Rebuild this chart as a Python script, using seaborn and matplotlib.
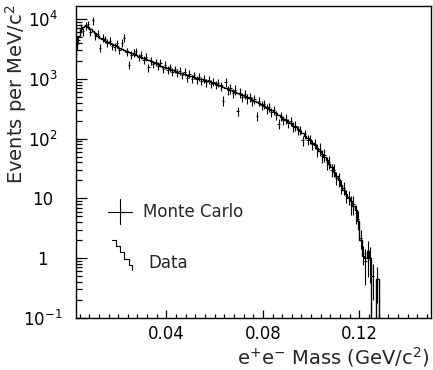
import numpy as np
import pandas as pd
import matplotlib
matplotlib.use("Agg")
import matplotlib.pyplot as plt
import matplotlib.ticker as mticker
import seaborn as sns

# ---------------- data (bins of 1 MeV, lower edge from 2 MeV) ----------------
bin_low_mev = 2
bin_width_mev = 1

# "Data" step histogram, events per MeV/c^2, bins m = 2 .. 128 MeV
data_vals = [
    3160, 5250, 6760, 7410, 7590, 7410, 6920, 6310, 5750, 5250,   # 2-11
    4790, 4570, 4370, 4170, 3980, 3800, 3630, 3470, 3310, 3160,   # 12-21
    3020, 2920, 2820, 2690, 2600, 2510, 2430, 2340, 2240, 2140,   # 22-31
    2040, 1970, 1910, 1820, 1740, 1660, 1600, 1550, 1500, 1450,   # 32-41
    1400, 1350, 1300, 1260, 1230, 1190, 1150, 1120, 1100, 1070,   # 42-51
    1040, 1000, 980, 955, 930, 910, 880, 850, 830, 800,           # 52-61
    775, 740, 710, 675, 645, 630, 600, 575, 555, 535,             # 62-71
    515, 490, 470, 445, 430, 415, 400, 375, 355, 335,             # 72-81
    315, 300, 280, 265, 245, 230, 215, 205, 190, 180,             # 82-91
    165, 155, 145, 132, 122, 112, 102, 93, 85, 78,                # 92-101
    70, 63, 56, 50, 44, 38, 33, 28, 24, 20,                       # 102-111
    17, 14, 12, 10, 8.9, 7.6, 6.3, 4.2, 2.0, 1.1,                 # 112-121
    1.0, 1.3, 1.0, 0, 0, 0.45, 0,                                 # 122-128
]

# "Monte Carlo" points with error bars, same bins
mc_vals = [
    2600, 4500, 7200, 6200, 7800, 8100, 6100, 9500, 5200, 5600,   # 2-11
    3300, 4900, 4600, 4000, 4300, 3500, 3400, 3900, 3000, 4000,   # 12-21
    4800, 2800, 1700, 2500, 2700, 2900, 2300, 2500, 2100, 2350,   # 22-31
    1550, 2000, 1750, 1900, 1650, 1850, 1450, 1700, 1400, 1550,   # 32-41
    1300, 1450, 1250, 1350, 1150, 1300, 1050, 1200, 1000, 1150,   # 42-51
    980, 1080, 920, 1010, 870, 960, 830, 900, 790, 860,           # 52-61
    760, 430, 880, 650, 690, 580, 660, 290, 590, 500,             # 62-71
    560, 470, 500, 420, 460, 240, 420, 360, 380, 320,             # 72-81
    340, 280, 300, 250, 178, 240, 205, 215, 180, 195,             # 82-91
    160, 165, 140, 140, 93, 118, 96, 98, 80, 82,                  # 92-101
    66, 68, 52, 54, 40, 41, 30, 30, 22, 21,                       # 102-111
    16, 15, 11, 10.5, 8.0, 8.2, 5.8, 4.5, 2.2, 1.2,               # 112-121
    0.9, 1.2, 0.95, 0.5, np.nan, 0.45, np.nan,                    # 122-128
]

# relative error of each Monte Carlo point
mc_rel_err = [
    0.15, 0.15, 0.15, 0.15, 0.15, 0.15, 0.15, 0.15, 0.15, 0.15,
    0.15, 0.15, 0.15, 0.15, 0.15, 0.15, 0.15, 0.15, 0.15, 0.15,
    0.15, 0.15, 0.15, 0.15, 0.15, 0.15, 0.15, 0.15, 0.15, 0.15,
    0.15, 0.15, 0.15, 0.15, 0.15, 0.15, 0.15, 0.15, 0.15, 0.15,
    0.15, 0.15, 0.15, 0.15, 0.15, 0.15, 0.15, 0.15, 0.15, 0.15,
    0.15, 0.15, 0.15, 0.15, 0.15, 0.15, 0.15, 0.15, 0.15, 0.15,
    0.18, 0.18, 0.18, 0.18, 0.18, 0.18, 0.18, 0.18, 0.18, 0.18,
    0.18, 0.18, 0.18, 0.18, 0.18, 0.18, 0.18, 0.18, 0.18, 0.18,
    0.18, 0.18, 0.18, 0.18, 0.18, 0.18, 0.18, 0.18, 0.18, 0.18,
    0.18, 0.18, 0.18, 0.18, 0.18, 0.18, 0.18, 0.18, 0.18, 0.18,
    0.25, 0.25, 0.25, 0.25, 0.25, 0.25, 0.25, 0.25, 0.25, 0.25,
    0.25, 0.25, 0.25, 0.25, 0.35, 0.35, 0.35, 0.35, 0.35, 0.35,
    0.6, 0.6, 0.6, 0.6, 0.6, 0.6, 0.6,
]

xtick_vals = [0.04, 0.08, 0.12]
xtick_labels = ["0.04", "0.08", "0.12"]
ytick_vals = [0.1, 1, 10, 100, 1000, 10000]
ytick_labels = [r"$10^{-1}$", "1", "10", r"$10^{2}$", r"$10^{3}$", r"$10^{4}$"]
legend_labels = ["Monte Carlo", "Data"]

# ---------------- derived arrays ----------------
n_bins = len(data_vals)
edges_gev = (bin_low_mev + bin_width_mev * np.arange(n_bins + 1)) / 1000.0
centers_gev = 0.5 * (edges_gev[:-1] + edges_gev[1:])
data_arr = np.array(data_vals, dtype=float)
mc_arr = np.array(mc_vals, dtype=float)
mc_err = mc_arr * np.array(mc_rel_err)
hist_df = pd.DataFrame({"mass": centers_gev, "events": data_arr})

# ---------------- style ----------------
sns.set_style("ticks")
plt.rcParams["font.family"] = ["DejaVu Sans"]
plt.rcParams["mathtext.fontset"] = "dejavusans"

W, H = 433, 370
fig = plt.figure(figsize=(W / 100, H / 100), dpi=100)
ax = fig.add_axes([76 / W, 1 - 318 / H, (431 - 76) / W, (318 - 6) / H])

sns.histplot(data=hist_df, x="mass", weights="events", bins=list(edges_gev),
             element="step", fill=False, color="black", linewidth=1.0, ax=ax)
ax.errorbar(centers_gev, mc_arr, yerr=mc_err, xerr=bin_width_mev / 2000.0,
            fmt="none", ecolor="black", elinewidth=0.8, capsize=0)

ax.set_yscale("log")
ax.set_xlim(0.0025, 0.1497)
ax.set_ylim(0.1, 16500)

ax.set_xticks(xtick_vals)
ax.set_xticklabels(xtick_labels)
ax.xaxis.set_minor_locator(mticker.MultipleLocator(0.004))
ax.set_yticks(ytick_vals)
ax.set_yticklabels(ytick_labels)
ax.yaxis.set_minor_locator(mticker.LogLocator(base=10, subs=np.arange(2, 10)))
ax.yaxis.set_minor_formatter(mticker.NullFormatter())

ax.tick_params(axis="both", which="both", direction="in", top=False, right=False,
               color="black", labelcolor="black", width=0.9)
ax.tick_params(axis="x", which="major", length=6, labelsize=12, pad=5)
ax.tick_params(axis="x", which="minor", length=3)
ax.tick_params(axis="y", which="major", length=8, labelsize=12, pad=24)
ax.tick_params(axis="y", which="minor", length=4)
for lab in ax.get_yticklabels():
    lab.set_horizontalalignment("center")

for sp in ax.spines.values():
    sp.set_color("black")
    sp.set_linewidth(1.0)

ax.set_xlabel("")
ax.set_ylabel("")

fig.text(430 / W, 1 - 357 / H, r"e$^{+}$e$^{-}$ Mass (GeV/c$^{2}$)",
         ha="right", va="center", fontsize=14)
fig.text(16 / W, 1 - 4 / H, r"Events per MeV/c$^{2}$", rotation=90,
         ha="center", va="top", fontsize=14)

# legend drawn by hand (cross and staircase)
tr = ax.transAxes
ax.plot([0.089, 0.159], [0.34, 0.34], color="black", lw=0.8, transform=tr)
ax.plot([0.124, 0.124], [0.30, 0.38], color="black", lw=0.8, transform=tr)
ax.text(0.19, 0.34, legend_labels[0], transform=tr, ha="left", va="center",
        fontsize=12)
stair_x = [0.100, 0.112, 0.124, 0.136, 0.148, 0.158]
stair_y = [0.250, 0.230, 0.210, 0.190, 0.170, 0.154]
ax.plot(stair_x, stair_y, drawstyle="steps-post", color="black", lw=0.8,
        transform=tr)
ax.text(0.203, 0.176, legend_labels[1], transform=tr, ha="left", va="center",
        fontsize=12)

fig.savefig("out.png", dpi=100)
